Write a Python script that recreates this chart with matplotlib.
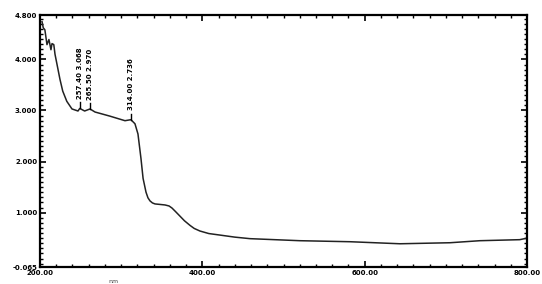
import numpy as np
import matplotlib
matplotlib.use("Agg")
import matplotlib.pyplot as plt
from matplotlib.ticker import MultipleLocator

# absorbance spectrum, values
wavelength = [202.5, 204, 206, 208.6, 211, 213.5, 214.8, 217, 218.5, 221, 224.6, 228, 233,
              239.4, 246.8, 249, 255, 261.6, 267.8, 286, 304.7, 312, 317, 320.7, 324.4,
              327, 330.6, 333, 335.5, 338.5, 341.7, 348, 354, 359, 362.6, 367, 372.5,
              378, 384.8, 390, 397, 408, 421.8, 440, 458.7,
              520, 582, 643.5, 705, 742, 791, 800]
absorbance = [4.74, 4.62, 4.58, 4.29, 4.39, 4.19, 4.31, 4.29, 4.10, 3.90, 3.61, 3.38, 3.18,
              3.03, 2.99, 3.04, 2.99, 3.03, 2.97, 2.89, 2.80, 2.82, 2.74, 2.54, 2.06,
              1.67, 1.40, 1.29, 1.23, 1.19, 1.17, 1.16, 1.15, 1.13, 1.09, 1.02, 0.93,
              0.84, 0.75, 0.69, 0.64, 0.59, 0.56, 0.52, 0.49,
              0.45, 0.43, 0.39, 0.41, 0.45, 0.47, 0.50]

peak_x = [249.0, 261.6, 312.0]
peak_y = [3.04, 3.03, 2.82]
peak_labels = ["257.40 3.068", "265.50 2.970", "314.00 2.736"]

x_ticks = [200, 400, 600, 800]
x_ticklabels = ["200.00", "400.00", "600.00", "800.00"]
y_ticks = [-0.065, 1.0, 2.0, 3.0, 4.0, 4.87]
y_ticklabels = ["-0.065", "1.000", "2.000", "3.000", "4.000", "4.800"]

fig = plt.figure(figsize=(5.42, 2.84), dpi=100)
ax = fig.add_axes([40 / 542, 17 / 284, 487 / 542, 252 / 284])

ax.plot(wavelength, absorbance, color="#222222", lw=1.1)

for px, py, lab in zip(peak_x, peak_y, peak_labels):
    ax.plot([px, px], [py, py + 0.12], color="black", lw=1.0)
    ax.text(px, py + 0.18, lab, rotation=90, ha="center", va="bottom",
            fontsize=5, fontweight="bold", family="DejaVu Sans")

ax.set_xlim(200, 800)
ax.set_ylim(-0.065, 4.87)
ax.set_xticks(x_ticks)
ax.set_xticklabels(x_ticklabels)
ax.set_yticks(y_ticks)
ax.set_yticklabels(y_ticklabels)
ax.xaxis.set_minor_locator(MultipleLocator(20))
ax.yaxis.set_minor_locator(MultipleLocator(0.1))

ax.tick_params(which="both", direction="in", top=True, right=True, labelsize=5, pad=2)
ax.tick_params(which="major", length=4, width=1.2)
ax.tick_params(which="minor", length=2.5, width=1.0)
for lab in ax.get_xticklabels() + ax.get_yticklabels():
    lab.set_fontweight("bold")
for s in ax.spines.values():
    s.set_linewidth(1.6)

ax.text(290, -0.30, "nm", fontsize=4.5, ha="center", va="top", color="#444444")

fig.savefig("out.png", dpi=100)
